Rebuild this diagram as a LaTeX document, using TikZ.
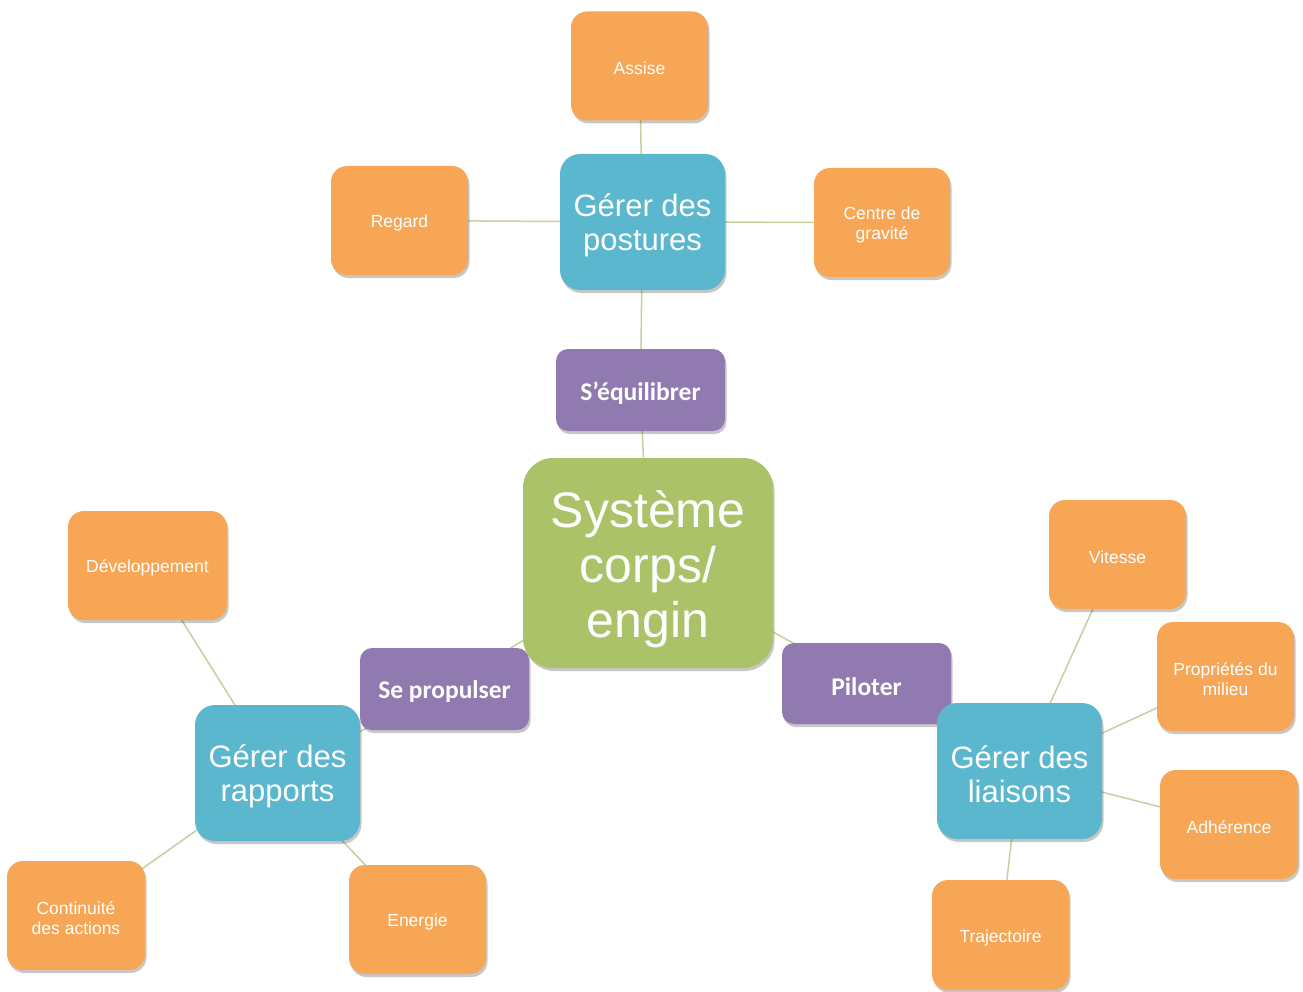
\documentclass[tikz,border=0pt]{standalone}
\usepackage{fontspec}
\setmainfont{Liberation Sans}
\newfontfamily\purplefont{Carlito}
\usetikzlibrary{shadows}
\definecolor{orangebox}{HTML}{F7A656}
\definecolor{bluebox}{HTML}{5BB7CE}
\definecolor{purplebox}{HTML}{907AB0}
\definecolor{greenbox}{HTML}{ABC268}
\definecolor{linkcol}{HTML}{BFD39D}
\pgfdeclarelayer{bg}
\pgfsetlayers{bg,main}
\tikzset{
  boxbase/.style={inner sep=0pt,
    drop shadow={opacity=0.22, shadow xshift=1.5pt, shadow yshift=-3pt, fill=black}},
  txtbase/.style={inner sep=0pt, align=center, text=white},
  leafbox/.style={boxbase, fill=orangebox, rounded corners=16pt,
    minimum width=137pt, minimum height=109pt},
  leaftext/.style={txtbase, yshift=-2.5pt, font=\fontsize{17.5}{20}\selectfont},
  midbox/.style={boxbase, fill=bluebox, rounded corners=20pt,
    minimum width=165pt, minimum height=136pt},
  midtext/.style={txtbase, yshift=-3.5pt, font=\fontsize{31}{34}\selectfont},
  verbbox/.style={boxbase, fill=purplebox, rounded corners=12pt,
    minimum width=169pt, minimum height=82pt},
  verbtext/.style={txtbase, yshift=-3pt, font=\purplefont\bfseries\fontsize{25.5}{28}\selectfont},
  corebox/.style={boxbase, fill=greenbox, rounded corners=30pt,
    minimum width=250pt, minimum height=210pt},
  coretext/.style={txtbase, yshift=-6.5pt, font=\fontsize{50}{55}\selectfont},
  link/.style={draw=linkcol, line width=1.5pt}
}
\begin{document}
\begin{tikzpicture}[x=1pt,y=-1pt]
\useasboundingbox (0,0) rectangle (1303,992);
% top branch
\node[leafbox, label={[leaftext]center:Assise}] (assise) at (639.5,66) {};
\node[leafbox, label={[leaftext]center:Regard}] (regard) at (399.5,220.5) {};
\node[leafbox, minimum width=136pt, label={[leaftext]center:{Centre de\\gravité}}] (centre) at (882,222.5) {};
\node[midbox, label={[midtext]center:{Gérer des\\postures}}] (postures) at (642.5,222) {};
\node[verbbox, label={[verbtext]center:S’équilibrer}] (equil) at (640.5,390) {};
% core
\node[corebox, label={[coretext]center:{Système\\corps/\\engin}}] (systeme) at (648,563) {};
% left branch
\node[verbbox, label={[verbtext]center:Se propulser}] (propulser) at (444.5,689) {};
\node[midbox, label={[midtext]center:{Gérer des\\rapports}}] (rapports) at (277.5,773) {};
\node[leafbox, minimum width=159pt, label={[leaftext]center:Développement}] (dev) at (147.5,565.5) {};
\node[leafbox, minimum width=138pt, label={[leaftext]center:{Continuité\\des actions}}] (cont) at (76,915.5) {};
\node[leafbox, label={[leaftext]center:Energie}] (energie) at (417.5,919.5) {};
% right branch
\node[verbbox, minimum height=81pt, label={[verbtext]center:Piloter}] (piloter) at (866.5,683.5) {};
\node[midbox, label={[midtext]center:{Gérer des\\liaisons}}] (liaisons) at (1019.5,771) {};
\node[leafbox, label={[leaftext]center:Vitesse}] (vitesse) at (1117.5,554.5) {};
\node[leafbox, label={[leaftext]center:{Propriétés du\\milieu}}] (prop) at (1225.5,676.5) {};
\node[leafbox, minimum width=138pt, label={[leaftext]center:Adhérence}] (adh) at (1229,824.5) {};
\node[leafbox, minimum height=110pt, label={[leaftext]center:Trajectoire}] (traj) at (1000.5,935) {};
% connectors
\begin{pgfonlayer}{bg}
\draw[link] (assise.center) -- (postures.center);
\draw[link] (regard.center) -- (postures.center);
\draw[link] (centre.center) -- (postures.center);
\draw[link] (postures.center) -- (equil.center);
\draw[link] (equil.center) -- (systeme.center);
\draw[link] (systeme.center) -- (propulser.center);
\draw[link] (systeme.center) -- (piloter.center);
\draw[link] (propulser.center) -- (rapports.center);
\draw[link] (piloter.center) -- (liaisons.center);
\draw[link] (dev.center) -- (rapports.center);
\draw[link] (cont.center) -- (rapports.center);
\draw[link] (energie.center) -- (rapports.center);
\draw[link] (vitesse.center) -- (liaisons.center);
\draw[link] (prop.center) -- (liaisons.center);
\draw[link] (adh.center) -- (liaisons.center);
\draw[link] (traj.center) -- (liaisons.center);
\end{pgfonlayer}
\end{tikzpicture}
\end{document}
